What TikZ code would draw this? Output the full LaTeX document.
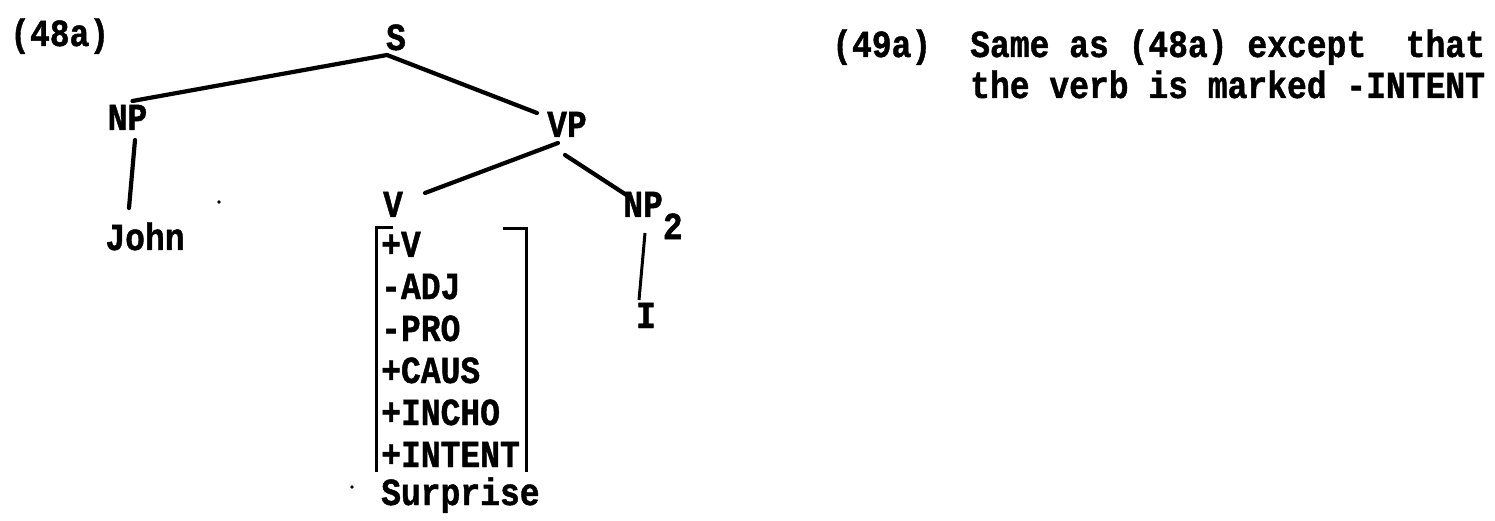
\documentclass[tikz,border=0pt]{standalone}
\usepackage{fontspec}
\usepackage{graphicx}
\newfontfamily\tw{Liberation Mono}[BoldFeatures={FakeBold=1.2}]
\newcommand\tallt[1]{\scalebox{1}[1.16]{#1}}
\begin{document}
\begin{tikzpicture}[x=1pt,y=-1pt,
  every node/.style={font=\tw\bfseries\fontsize{33}{40}\selectfont, inner sep=0pt},
  lab/.style={anchor=base},
  txt/.style={anchor=base west},
  branch/.style={line width=4.2pt, line cap=round},
  brk/.style={line width=3pt}]
\useasboundingbox (0,0) rectangle (1495,521);
% labels
\node[txt] (l48) at (10,46) {\tallt{(48a)}};
\node[txt] (l49) at (832,57) {\tallt{(49a)}};
\node[txt] (c1) at (970,57) {\tallt{Same as (48a) except\ \ that}};
\node[txt] (c2) at (970,98) {\tallt{the verb is marked -INTENT}};
% tree nodes
\node[lab] (S) at (396,50) {\tallt{S}};
\node[lab] (NP) at (127.5,130) {\tallt{NP}};
\node[lab] (VP) at (567,137) {\tallt{VP}};
\node[lab] (V) at (393,217) {\tallt{V}};
\node[lab] (NPt) at (653,217) {\tallt{NP\raisebox{-19pt}{2}}};
\node[lab] (John) at (145,250) {\tallt{John}};
\node[lab] (I) at (646,328) {\tallt{I}};
% features
\node[txt] (f1) at (381,257) {\tallt{+V}};
\node[txt] (f2) at (381,299) {\tallt{-ADJ}};
\node[txt] (f3) at (381,341) {\tallt{-PRO}};
\node[txt] (f4) at (381,383) {\tallt{+CAUS}};
\node[txt] (f5) at (381,425) {\tallt{+INCHO}};
\node[txt] (f6) at (381,467) {\tallt{+INTENT}};
\node[txt] (surp) at (381,505) {\tallt{Surprise}};
% branches
\draw[branch] ([shift={(-9,5)}]S.base) -- ([shift={(5,-29)}]NP.base);
\draw[branch] ([shift={(-9,5)}]S.base) -- ([shift={(-30,-24)}]VP.base);
\draw[branch] ([shift={(-9,6)}]VP.base) -- ([shift={(32,-24)}]V.base);
\draw[branch] ([shift={(-2,18)}]VP.base) -- ([shift={(-25,-21)}]NPt.base);
\draw[branch] ([shift={(7.5,10)}]NP.base) -- ([shift={(-16,-42)}]John.base);
\draw[line width=3pt] ([shift={(-8,16)}]NPt.base) -- ([shift={(-7,-28)}]I.base);
% feature bracket
\draw[brk] (393,228) -- (376,228) -- (376,472);
\draw[brk] (503,229) -- (526,229) -- (526,472);
% specks
\fill (219,202) circle (1.8);
\fill (352,487) circle (1.8);
\end{tikzpicture}
\end{document}
